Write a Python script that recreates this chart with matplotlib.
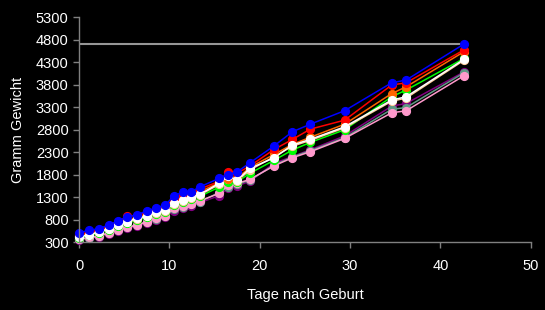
"""Gewichtskurve: Gramm Gewicht vs. Tage nach Geburt."""

import matplotlib.pyplot as plt

# days after birth
days = [0, 1.1, 2.2, 3.3, 4.3, 5.3, 6.4, 7.5, 8.5, 9.5, 10.5, 11.5, 12.4,
        13.4, 15.5, 16.5, 17.5, 18.9, 21.6, 23.6, 25.6, 29.4, 34.6, 36.2, 42.6]

# weights in gram for each animal
w_blue = [510, 560, 600, 680, 770, 850, 910, 990, 1060, 1120, 1320, 1420, 1420,
          1530, 1715, 1800, 1860, 2060, 2440, 2750, 2920, 3220, 3840, 3900, 4700]
w_red = [470, 520, 570, 650, 740, 880, 890, 960, 1030, 1090, 1260, 1340, 1390,
         1480, 1650, 1860, 1830, 1990, 2360, 2580, 2810, 3010, 3790, 3840, 4570]
w_orange = [450, 500, 550, 620, 700, 790, 850, 920, 990, 1050, 1210, 1280, 1330,
            1420, 1620, 1700, 1720, 1960, 2250, 2470, 2630, 2920, 3600, 3750, 4530]
w_white = [420, 456, 530, 600, 680, 750, 830, 880, 960, 1010, 1160, 1233, 1293,
           1367, 1604, 1767, 1678, 1937, 2173, 2456, 2582, 2862, 3456, 3529, 4360]
w_tan = [430, 470, 520, 590, 670, 740, 810, 870, 940, 1000, 1150, 1220, 1280,
         1350, 1580, 1700, 1660, 1900, 2200, 2430, 2560, 2840, 3430, 3500, 4340]
w_green = [400, 450, 500, 570, 650, 720, 790, 850, 920, 980, 1120, 1190, 1250,
           1320, 1520, 1640, 1640, 1827, 2120, 2344, 2516, 2796, 3529, 3678, 4380]
w_purple = [350, 390, 420, 490, 550, 610, 660, 730, 800, 850, 1000, 1060, 1110,
            1180, 1330, 1500, 1550, 1650, 2050, 2200, 2350, 2660, 3320, 3380, 4080]
w_teal = [370, 400, 440, 510, 570, 630, 680, 750, 820, 870, 1030, 1090, 1140,
          1200, 1400, 1530, 1580, 1680, 2010, 2190, 2330, 2620, 3250, 3290, 4060]
w_pink = [360, 404, 433, 507, 567, 627, 678, 751, 827, 878, 1049, 1100, 1150,
          1220, 1381, 1567, 1604, 1693, 1996, 2173, 2307, 2604, 3173, 3218, 3996]

# reference line
ref_days = [0, 42.6]
ref_weight = [4700, 4700]

series = [
    (w_purple, "#800080"),
    (w_teal, "#5f9985"),
    (w_pink, "#ff99cc"),
    (w_green, "#00ff00"),
    (w_tan, "#ffcc99"),
    (w_orange, "#ff6600"),
    (w_red, "#ff0000"),
    (w_white, "#ffffff"),
    (w_blue, "#0000ff"),
]

plt.rcParams["font.family"] = ["Liberation Sans", "DejaVu Sans"]

fig = plt.figure(figsize=(5.45, 3.10), dpi=100, facecolor="black")
ax = fig.add_axes([0.145, 0.219, 0.829, 0.726], facecolor="black")

ax.plot(ref_days, ref_weight, color="#969696", lw=1.5)
for w, c in series:
    ax.plot(days, w, "-o", color=c, lw=1.1, ms=5.6, mec=c, mfc=c, clip_on=False)

ax.set_xlim(0, 50)
ax.set_ylim(300, 5300)
ax.set_xticks(range(0, 51, 10))
ax.set_yticks(range(300, 5301, 500))

for side in ("top", "right"):
    ax.spines[side].set_visible(False)
for side in ("left", "bottom"):
    ax.spines[side].set_color("#808080")
    ax.spines[side].set_linewidth(1.0)
ax.tick_params(colors="#808080", labelcolor="white", labelsize=10.5,
               direction="out", length=4, width=1)
ax.tick_params(axis="x", pad=8)

ax.set_xlabel("Tage nach Geburt", color="white", fontsize=10.5, labelpad=11)
ax.set_ylabel("Gramm Gewicht", color="white", fontsize=10.5, labelpad=8)

fig.savefig("out.png", dpi=100, facecolor="black")
